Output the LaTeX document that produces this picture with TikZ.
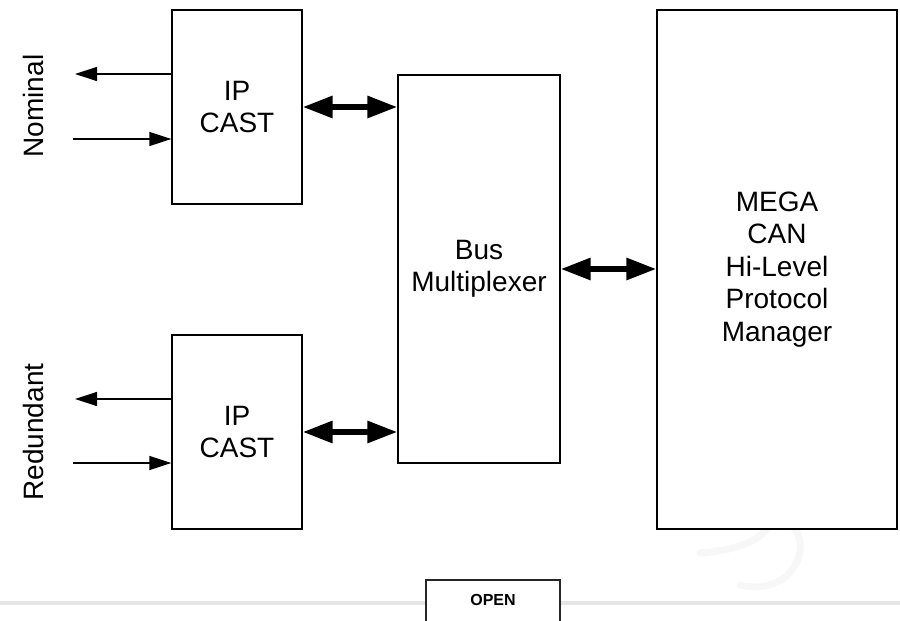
\documentclass[tikz,border=0pt]{standalone}
\usepackage{fontspec}
\setmainfont{Liberation Sans}
\usetikzlibrary{arrows.meta}

\tikzset{
  block/.style={draw=black, line width=1.3pt, fill=white, inner sep=0pt,
    align=center, font=\fontsize{28}{32.5}\selectfont},
  sidelabel/.style={rotate=90, inner sep=0pt, font=\fontsize{28}{32.5}\selectfont},
  signal/.style={line width=1.3pt, -{Triangle[length=22pt,width=14pt]}},
  busarrow/.style={line width=6pt,
    {Triangle[length=30pt,width=21pt]}-{Triangle[length=30pt,width=21pt]}},
  button/.style={draw=black!85, line width=1.5pt, fill=white},
}

\begin{document}
\begin{tikzpicture}[x=1pt, y=-1pt]
  \useasboundingbox (0,0) rectangle (900,621);
  \clip (0,0) rectangle (900,621);

  % faint background mark and rule at the foot of the page
  \draw[black!3, line width=7pt, line cap=round]
    (700,553) .. controls (740,550) and (760,540) .. (770,525)
    .. controls (790,510) and (810,540) .. (795,565)
    .. controls (785,585) and (760,590) .. (740,585);
  \draw[black!10, line width=3.5pt] (0,603) -- (900,603);

  % blocks
  \node[block, minimum width=130pt, minimum height=194pt] (ipA) at (237,107) {IP\\CAST};
  \node[block, minimum width=130pt, minimum height=194pt] (ipB) at (237,432) {IP\\CAST};
  \node[block, minimum width=162pt, minimum height=388pt] (bus) at (479,269) {Bus\\Multiplexer};
  \node[block, minimum width=240pt, minimum height=519pt] (mega) at (777,269.5)
    {MEGA\\CAN\\Hi-Level\\Protocol\\Manager};

  % side labels
  \node[sidelabel] (nomLabel) at (33,106) {Nominal};
  \node[sidelabel] (redLabel) at (33,432) {Redundant};

  % external signal ends
  \coordinate (nomOut) at (75,74);
  \coordinate (nomIn)  at (73,139);
  \coordinate (redOut) at (75,399);
  \coordinate (redIn)  at (73,463);

  \draw[signal] (nomOut -| ipA.west) -- (nomOut);
  \draw[signal] (nomIn) -- (nomIn -| ipA.west);
  \draw[signal] (redOut -| ipB.west) -- (redOut);
  \draw[signal] (redIn) -- (redIn -| ipB.west);

  % bidirectional bus links
  \draw[busarrow] (ipA.east) -- (ipA.east -| bus.west);
  \draw[busarrow] (ipB.east) -- (ipB.east -| bus.west);
  \draw[busarrow] (bus.east) -- (bus.east -| mega.west);

  % button at the foot
  \draw[button] (426,580) rectangle (560,640);
  \node[font=\fontsize{16}{18}\selectfont\bfseries, inner sep=0pt] (openBtn) at (493,600) {OPEN};
\end{tikzpicture}
\end{document}
